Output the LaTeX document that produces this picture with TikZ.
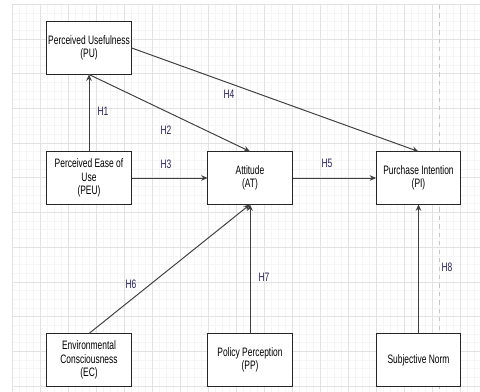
\documentclass[tikz,border=0pt]{standalone}
\usepackage{fontspec}
\setmainfont{Liberation Sans}[FakeStretch=0.69]
\usetikzlibrary{arrows.meta, positioning}
\definecolor{hypcol}{RGB}{40, 35, 85}
\definecolor{gridminor}{RGB}{245, 245, 245}
\definecolor{gridmajor}{RGB}{226, 226, 226}

\begin{document}
\begin{tikzpicture}[x=0.025cm, y=-0.025cm,
  cbox/.style={draw=black!85, line width=0.7pt, fill=white, minimum width=2.1cm, minimum height=1.3cm, align=center, inner sep=1pt, font=\fontsize{8.7}{9.6}\selectfont},
  hyp/.style={text=hypcol, inner sep=1pt, font=\fontsize{8.7}{9.6}\selectfont},
  link/.style={draw=black!75, line width=0.7pt, -{Stealth[length=4.5pt, width=4pt]}}
]
  \useasboundingbox (0,0) rectangle (480,392);

  % background grid
  \foreach \k in {0,...,66} \draw[gridminor, line width=0.5pt] ({12+7*\k},5) -- ({12+7*\k},392);
  \foreach \k in {0,...,44} \draw[gridminor, line width=0.5pt] (12,{4.3+8.675*\k}) -- (480,{4.3+8.675*\k});
  \foreach \k in {0,...,16} \draw[gridmajor, line width=0.5pt] ({12+28*\k},5) -- ({12+28*\k},392);
  \foreach \k in {0,...,11} \draw[gridmajor, line width=0.5pt] (12,{4.3+34.7*\k}) -- (480,{4.3+34.7*\k});
  \draw[gray!45, dashed, line width=0.5pt] (439,5) -- (439,392);

  % constructs
  \node[cbox] (pu) at (89, 48) {Perceived Usefulness\\(PU)};
  \node[cbox] (peu) at (89, 178) {Perceived Ease of\\Use\\(PEU)};
  \node[cbox] (at) at (250, 178) {Attitude\\(AT)};
  \node[cbox] (pi) at (418.5, 178) {Purchase Intention\\(PI)};
  \node[cbox] (ec) at (89, 360) {Environmental\\Consciousness\\(EC)};
  \node[cbox] (pp) at (250, 360) {Policy Perception\\(PP)};
  \node[cbox] (sn) at (418.5, 360) {Subjective Norm};

  % hypotheses
  \draw[link] (peu) -- (pu);
  \draw[link] (pu.south) -- (at.north);
  \draw[link] (peu) -- (at);
  \draw[link] (pu.east) -- (pi.north);
  \draw[link] (at) -- (pi);
  \draw[link] (ec.north) -- (at.south);
  \draw[link] (pp) -- (at);
  \draw[link] (sn) -- (pi);

  \node[hyp] (h1) at (103, 111) {H1};
  \node[hyp] (h2) at (166, 130) {H2};
  \node[hyp] (h3) at (166, 164) {H3};
  \node[hyp] (h4) at (229, 94) {H4};
  \node[hyp] (h5) at (327, 163) {H5};
  \node[hyp] (h6) at (131, 284) {H6};
  \node[hyp] (h7) at (264, 277) {H7};
  \node[hyp] (h8) at (447, 267) {H8};
\end{tikzpicture}
\end{document}
